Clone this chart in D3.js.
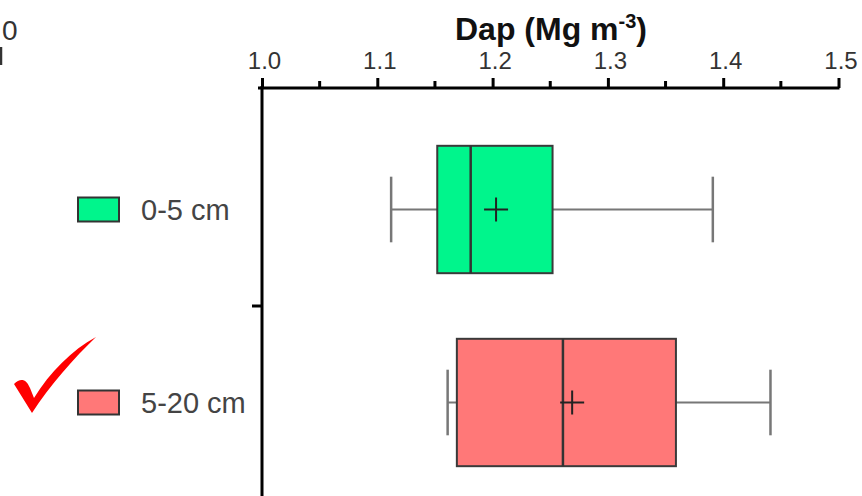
<!DOCTYPE html>
<html>
<head>
<meta charset="utf-8">
<script src="https://cdn.jsdelivr.net/npm/d3@7"></script>
<style>
  body { margin: 0; background: #fff; }
  svg { display: block; font-family: "Liberation Sans", Arial, sans-serif; }
</style>
</head>
<body>
<script>
// data
const depths = ['0-5 cm', '5-20 cm'];
const mins = [1.112, 1.161];
const q1s = [1.152, 1.169];
const medians = [1.181, 1.261];
const q3s = [1.252, 1.359];
const maxs = [1.391, 1.441];
const means = [1.203, 1.269];
const fills = ['#00f58c', '#ff7878'];
const xTicks = [1.0, 1.1, 1.2, 1.3, 1.4, 1.5];
const xMinorTicks = [1.05, 1.15, 1.25, 1.35, 1.45];

const boxes = depths.map((d, i) => ({
  depth: d, min: mins[i], q1: q1s[i], median: medians[i],
  q3: q3s[i], max: maxs[i], mean: means[i], fill: fills[i]
}));

const width = 862, height = 496;
const margin = {top: 88, left: 262, right: 24};

const svg = d3.select('body').append('svg')
  .attr('width', width)
  .attr('height', height);

// scales
const x = d3.scaleLinear()
  .domain([1.0, 1.5])
  .range([margin.left, 838.5]);

const y = d3.scaleBand()
  .domain(depths)
  .range([113, 499])
  .paddingInner(0);

const bw = y.bandwidth();
const boxH = bw * 0.66;
const capH = bw * 0.34;

// title
const title = svg.append('text')
  .attr('x', 551)
  .attr('y', 40)
  .attr('text-anchor', 'middle')
  .attr('font-size', 32)
  .attr('font-weight', 'bold')
  .attr('fill', '#111');
title.append('tspan').text('Dap (Mg m');
title.append('tspan').attr('font-size', 20).attr('dy', -12).text('-3');
title.append('tspan').attr('dy', 12).text(')');

// top axis
const xAxis = d3.axisTop(x)
  .tickValues(xTicks)
  .tickFormat(d3.format('.1f'))
  .tickSize(10)
  .tickSizeOuter(0);

const gx = svg.append('g')
  .attr('transform', `translate(0,${margin.top})`)
  .call(xAxis);
gx.select('.domain').attr('stroke', '#000').attr('stroke-width', 3)
  .attr('d', `M${x(1.0) - 4},0H${x(1.5) + 1}`);
gx.selectAll('.tick line').attr('stroke', '#000').attr('stroke-width', 3);
gx.selectAll('.tick text')
  .attr('font-size', 24)
  .attr('fill', '#333')
  .attr('x', 2)
  .attr('y', -19)
  .attr('dy', 0);

// minor ticks
svg.append('g')
  .selectAll('line')
  .data(xMinorTicks)
  .join('line')
  .attr('x1', d => x(d)).attr('x2', d => x(d))
  .attr('y1', margin.top).attr('y2', margin.top - 7)
  .attr('stroke', '#000').attr('stroke-width', 3);

// left axis line and category boundary ticks
svg.append('line')
  .attr('x1', margin.left).attr('x2', margin.left)
  .attr('y1', margin.top - 2).attr('y2', height)
  .attr('stroke', '#000').attr('stroke-width', 3);

svg.append('g')
  .selectAll('line')
  .data(depths)
  .join('line')
  .attr('x1', margin.left - 10).attr('x2', margin.left)
  .attr('y1', d => y(d) + bw).attr('y2', d => y(d) + bw)
  .attr('stroke', '#000').attr('stroke-width', 3);

// boxes
const g = svg.append('g')
  .selectAll('g')
  .data(boxes)
  .join('g')
  .attr('transform', d => `translate(0,${y(d.depth) + bw / 2})`);

// whiskers
g.append('line')
  .attr('x1', d => x(d.min)).attr('x2', d => x(d.q1))
  .attr('stroke', '#777').attr('stroke-width', 2);
g.append('line')
  .attr('x1', d => x(d.q3)).attr('x2', d => x(d.max))
  .attr('stroke', '#777').attr('stroke-width', 2);
g.append('line')
  .attr('x1', d => x(d.min)).attr('x2', d => x(d.min))
  .attr('y1', -capH / 2).attr('y2', capH / 2)
  .attr('stroke', '#777').attr('stroke-width', 2.5);
g.append('line')
  .attr('x1', d => x(d.max)).attr('x2', d => x(d.max))
  .attr('y1', -capH / 2).attr('y2', capH / 2)
  .attr('stroke', '#777').attr('stroke-width', 2.5);

// box
g.append('rect')
  .attr('x', d => x(d.q1))
  .attr('y', -boxH / 2)
  .attr('width', d => x(d.q3) - x(d.q1))
  .attr('height', boxH)
  .attr('fill', d => d.fill)
  .attr('stroke', '#3a3a3a')
  .attr('stroke-width', 2);

// median
g.append('line')
  .attr('x1', d => x(d.median)).attr('x2', d => x(d.median))
  .attr('y1', -boxH / 2).attr('y2', boxH / 2)
  .attr('stroke', '#333').attr('stroke-width', 2.5);

// mean cross
g.append('path')
  .attr('d', d => `M${x(d.mean) - 12},0H${x(d.mean) + 12}M${x(d.mean)},-12V12`)
  .attr('stroke', '#222').attr('stroke-width', 2)
  .attr('fill', 'none');

// legend
const leg = svg.append('g')
  .selectAll('g')
  .data(boxes)
  .join('g')
  .attr('transform', d => `translate(78,${y(d.depth) + bw / 2})`);

leg.append('rect')
  .attr('x', 0).attr('y', -12)
  .attr('width', 41).attr('height', 24)
  .attr('fill', d => d.fill)
  .attr('stroke', '#333').attr('stroke-width', 2);

leg.append('text')
  .attr('x', 63)
  .attr('y', 0)
  .attr('dy', '0.35em')
  .attr('font-size', 29)
  .attr('fill', '#444')
  .text(d => d.depth);

// stray marks cut from the neighbouring panel
svg.append('text')
  .attr('x', 2).attr('y', 40)
  .attr('font-size', 28)
  .attr('fill', '#333')
  .text('0');
svg.append('line')
  .attr('x1', 1).attr('x2', 1)
  .attr('y1', 47).attr('y2', 65)
  .attr('stroke', '#333').attr('stroke-width', 2.5);

// red check mark
svg.append('path')
  .attr('d', 'M14,384 C20,378 26,378 30,388 L34,398 C50,372 72,350 96,337 C74,358 50,385 32,413 Z')
  .attr('fill', '#f00');
</script>
</body>
</html>
